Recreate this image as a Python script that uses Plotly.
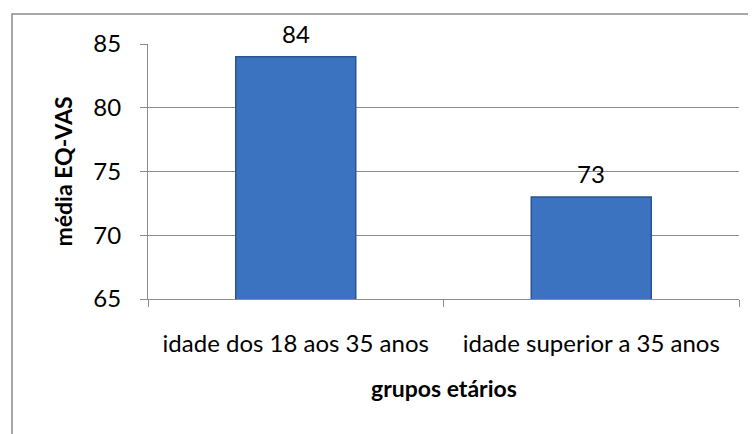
import plotly.graph_objects as go

categories = ["idade dos 18 aos 35 anos", "idade superior a 35 anos"]
values = [84, 73]
y_ticks = [65, 70, 75, 80, 85]

FONT = "Lato"
GRID = "#8c8c8c"
FS = 24
TFS = 23

fig = go.Figure()
fig.add_trace(go.Bar(
    x=categories, y=values,
    marker=dict(color="#3b73c0", line=dict(color="#2a5593", width=1.5)),
    width=0.406,
    hoverinfo="skip",
))

for c, v in zip(categories, values):
    fig.add_annotation(x=c, y=v, text=str(v), showarrow=False,
                       yanchor="bottom", yshift=7,
                       font=dict(family=FONT, size=FS, color="#000"))

fig.add_annotation(xref="paper", yref="paper", x=-0.1455, y=0.5,
                   text="<b>média EQ-VAS</b>", textangle=-90, showarrow=False,
                   font=dict(family=FONT, size=TFS, color="#000"),
                   xanchor="center", yanchor="middle")
fig.add_annotation(xref="paper", yref="paper", x=0.5, y=-0.349,
                   text="<b>grupos etários</b>", showarrow=False,
                   font=dict(family=FONT, size=TFS, color="#000"),
                   xanchor="center", yanchor="middle")

# chart frame
fig.add_shape(type="rect", xref="paper", yref="paper",
              x0=-0.2301, x1=1.06, y0=-0.6, y1=1.1176,
              line=dict(color="#8a8a8a", width=1.5), fillcolor="rgba(0,0,0,0)",
              layer="below")

fig.update_layout(
    width=748, height=426,
    margin=dict(l=140, r=17, t=36, b=135),
    paper_bgcolor="white", plot_bgcolor="white",
    showlegend=False,
    font=dict(family=FONT, size=FS, color="#000"),
    xaxis=dict(
        type="category", showline=True, linecolor=GRID, linewidth=1.2,
        ticks="outside", tickson="boundaries", ticklen=7, tickcolor=GRID,
        tickfont=dict(family=FONT, size=FS), showgrid=False,
        ticklabelstandoff=23, fixedrange=True,
    ),
    yaxis=dict(
        range=[65, 85], tickvals=y_ticks, showgrid=True, gridcolor=GRID,
        gridwidth=1.2, showline=True, linecolor=GRID, linewidth=1.2,
        ticks="outside", ticklen=7, tickcolor=GRID, zeroline=False,
        tickfont=dict(family=FONT, size=FS), ticklabelstandoff=14,
    ),
)

fig.write_html("out.html")
